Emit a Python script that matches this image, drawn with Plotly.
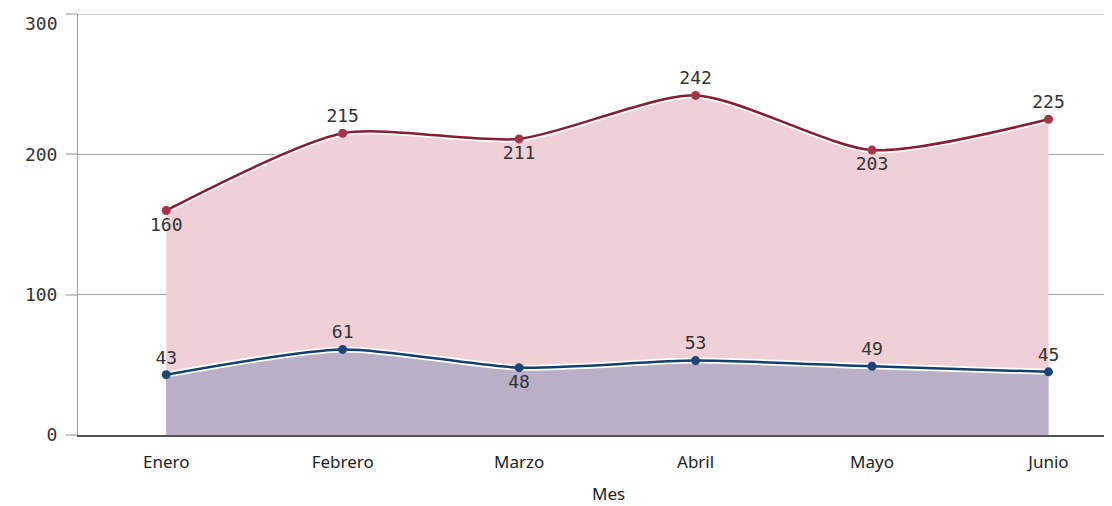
import plotly.graph_objects as go

meses = ["Enero", "Febrero", "Marzo", "Abril", "Mayo", "Junio"]
serie_roja = [160, 215, 211, 242, 203, 225]
serie_azul = [43, 61, 48, 53, 49, 45]
pos_roja = ["bottom center", "top center", "bottom center", "top center", "bottom center", "top center"]
pos_azul = ["top center", "top center", "bottom center", "top center", "top center", "top center"]
y_ticks = [0, 100, 200, 300]
y_ticktext = ["0", "100", "200", ""]
x_titulo = "Mes"

mono = "DejaVu Sans Mono"
sans = "Noto Sans"

fig = go.Figure()

# red area
fig.add_trace(go.Scatter(
    x=meses, y=serie_roja, mode="lines", line=dict(color="white", width=6, shape="spline", smoothing=0.7),
    fill="tozeroy", fillcolor="rgba(239,208,214,1)", hoverinfo="skip", showlegend=False))
fig.add_trace(go.Scatter(
    x=meses, y=serie_roja, mode="lines+markers+text",
    line=dict(color="#8a1c32", width=2.5, shape="spline", smoothing=0.7),
    marker=dict(color="#a3344a", size=9),
    text=[str(v) for v in serie_roja], textposition=pos_roja,
    textfont=dict(family=mono, size=18, color="#333333"), showlegend=False))

# blue area
fig.add_trace(go.Scatter(
    x=meses, y=serie_azul, mode="lines", line=dict(color="white", width=6, shape="spline", smoothing=0.7),
    fill="tozeroy", fillcolor="rgba(185,176,200,1)", hoverinfo="skip", showlegend=False))
fig.add_trace(go.Scatter(
    x=meses, y=serie_azul, mode="lines+markers+text",
    line=dict(color="#123f70", width=2.5, shape="spline", smoothing=0.7),
    marker=dict(color="#1c4677", size=9),
    text=[str(v) for v in serie_azul], textposition=pos_azul,
    textfont=dict(family=mono, size=18, color="#333333"), showlegend=False))

fig.update_layout(
    width=1112, height=506,
    margin=dict(l=70, r=8, t=6, b=79),
    paper_bgcolor="white", plot_bgcolor="white",
    xaxis=dict(
        type="category", range=[-0.5, 5.36], automargin=False,
        showgrid=False, showline=True, linecolor="#555555", linewidth=2,
        ticks="outside", ticklen=11, tickcolor="rgba(0,0,0,0)",
        tickfont=dict(family=sans, size=17, color="#222222"),
    ),
    yaxis=dict(
        range=[0, 300], tickvals=y_ticks, ticktext=y_ticktext, automargin=False,
        showgrid=True, gridcolor="#a0a0a0", gridwidth=1,
        showline=True, linecolor="#a0a0a0", linewidth=1,
        ticks="outside", ticklen=11, tickcolor="#c8c8c8", tickwidth=2,
        ticklabelstandoff=5, ticklabeloverflow="allow",
        tickfont=dict(family=mono, size=18, color="#333333"),
        zeroline=False,
    ),
    shapes=[dict(type="line", xref="paper", yref="y", x0=0, x1=1, y0=y_ticks[-1], y1=y_ticks[-1],
                 line=dict(color="#a0a0a0", width=1))],
    annotations=[
        dict(text=str(y_ticks[-1]), xref="paper", yref="y", x=0, y=y_ticks[-1],
             xanchor="right", yanchor="middle", xshift=-18, yshift=-9, showarrow=False,
             font=dict(family=mono, size=18, color="#333333")),
        dict(text=x_titulo, xref="paper", yref="paper", x=0.5126, y=-0.14,
             xanchor="center", yanchor="middle", showarrow=False,
             font=dict(family=sans, size=17, color="#222222")),
    ],
)

fig.write_html("out.html")
